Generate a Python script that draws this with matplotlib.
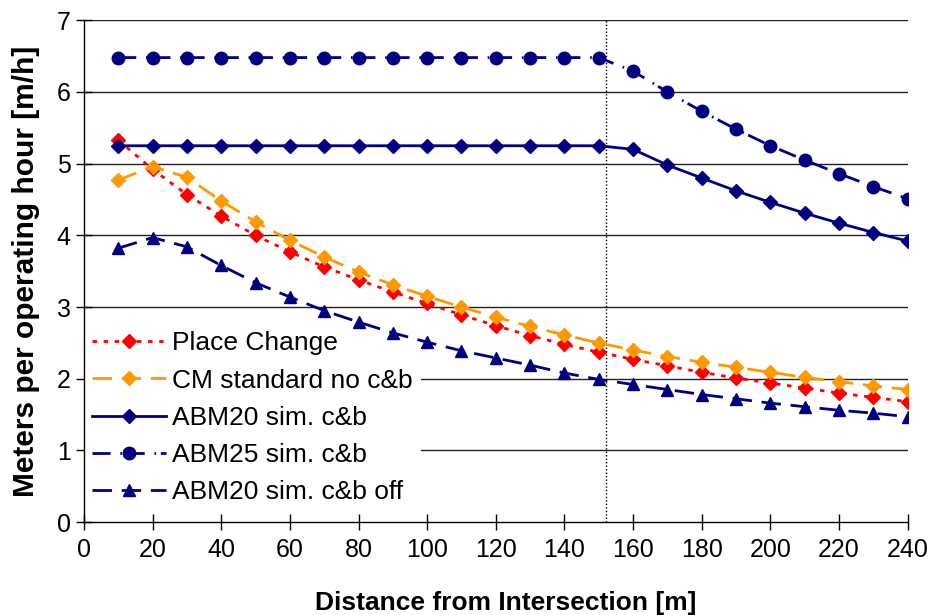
import matplotlib
matplotlib.use("Agg")
import matplotlib.pyplot as plt

plt.rcParams['font.family'] = ['Liberation Sans', 'DejaVu Sans']

# Distance from intersection [m]
distance = [10, 20, 30, 40, 50, 60, 70, 80, 90, 100, 110, 120,
            130, 140, 150, 160, 170, 180, 190, 200, 210, 220, 230, 240]

place_change = [5.33, 4.92, 4.57, 4.27, 4.00, 3.77, 3.56, 3.38, 3.21, 3.05, 2.89, 2.74,
                2.60, 2.48, 2.37, 2.27, 2.18, 2.09, 2.01, 1.94, 1.87, 1.80, 1.74, 1.68]
cm_standard = [4.77, 4.96, 4.81, 4.48, 4.19, 3.93, 3.70, 3.49, 3.31, 3.15, 3.00, 2.86,
               2.73, 2.61, 2.50, 2.40, 2.31, 2.23, 2.16, 2.09, 2.02, 1.96, 1.90, 1.85]
abm20 = [5.25, 5.25, 5.25, 5.25, 5.25, 5.25, 5.25, 5.25, 5.25, 5.25, 5.25, 5.25,
         5.25, 5.25, 5.25, 5.20, 4.98, 4.80, 4.62, 4.46, 4.31, 4.17, 4.04, 3.92]
abm25 = [6.48, 6.48, 6.48, 6.48, 6.48, 6.48, 6.48, 6.48, 6.48, 6.48, 6.48, 6.48,
         6.48, 6.48, 6.48, 6.29, 6.00, 5.73, 5.48, 5.25, 5.05, 4.86, 4.68, 4.51]
abm20_off = [3.82, 3.97, 3.84, 3.58, 3.34, 3.14, 2.95, 2.79, 2.64, 2.51, 2.39, 2.29,
             2.19, 2.08, 1.99, 1.92, 1.85, 1.78, 1.72, 1.66, 1.61, 1.56, 1.52, 1.47]

series_labels = ["Place Change", "CM standard no c&b", "ABM20 sim. c&b",
                 "ABM25 sim. c&b", "ABM20 sim. c&b off"]
boundary_x = 152

x_ticks = list(range(0, 241, 20))
y_ticks = list(range(0, 8))

NAVY = "#000080"
RED = "#FF0000"
ORANGE = "#FF9900"

fig = plt.figure(figsize=(9.32, 6.15), dpi=100)
ax = fig.add_axes([0.090, 0.151, 0.884, 0.816])

ax.set_xlim(0, 240)
ax.set_ylim(0, 7)

# horizontal gridlines
for yv in y_ticks[1:]:
    ax.axhline(yv, color="#222222", lw=1.0, zorder=1)

# boundary marker
ax.axvline(boundary_x, color="black", lw=1.0, ls=(0, (1, 1.5)), zorder=2)

lw = 2.0
ax.plot(distance, place_change, color=RED, lw=lw, ls=(0, (1.6, 2.4)),
        marker="D", ms=7.5, label=series_labels[0], zorder=3)
ax.plot(distance, cm_standard, color=ORANGE, lw=lw, ls=(0, (7, 3.5)),
        marker="D", ms=7.5, label=series_labels[1], zorder=3)
ax.plot(distance, abm20, color=NAVY, lw=lw, ls="-",
        marker="D", ms=7.5, label=series_labels[2], zorder=4)
ax.plot(distance, abm25, color=NAVY, lw=lw, ls=(0, (6.5, 3.5, 0.6, 1.7)),
        marker="o", ms=9, label=series_labels[3], zorder=4)
ax.plot(distance, abm20_off, color=NAVY, lw=lw, ls=(0, (7, 3.5)),
        marker="^", ms=9, label=series_labels[4], zorder=4)

ax.set_xticks(x_ticks)
ax.set_yticks(y_ticks)
ax.tick_params(axis="both", direction="inout", length=11, width=1.0,
               labelsize=18, color="black")
ax.tick_params(axis="x", pad=6)
ax.tick_params(axis="y", pad=4)

for side in ("top", "right"):
    ax.spines[side].set_visible(False)
for side in ("left", "bottom"):
    ax.spines[side].set_linewidth(1.0)
    ax.spines[side].set_zorder(5)

ax.set_xlabel("Distance from Intersection [m]", fontsize=19, fontweight="bold")
ax.xaxis.set_label_coords(0.512, -0.137)
ax.set_ylabel("Meters per operating hour [m/h]", fontsize=21.5,
              fontweight="bold", labelpad=12)

leg = ax.legend(loc="lower left", bbox_to_anchor=(0.0, 0.02), fontsize=19,
                frameon=True, fancybox=False, framealpha=1.0,
                facecolor="white", edgecolor="none", numpoints=1,
                handlelength=2.8, handletextpad=0.25, labelspacing=0.50,
                borderpad=0.3, borderaxespad=0.0)
leg.set_zorder(2.5)

fig.savefig("out.png", dpi=100)
